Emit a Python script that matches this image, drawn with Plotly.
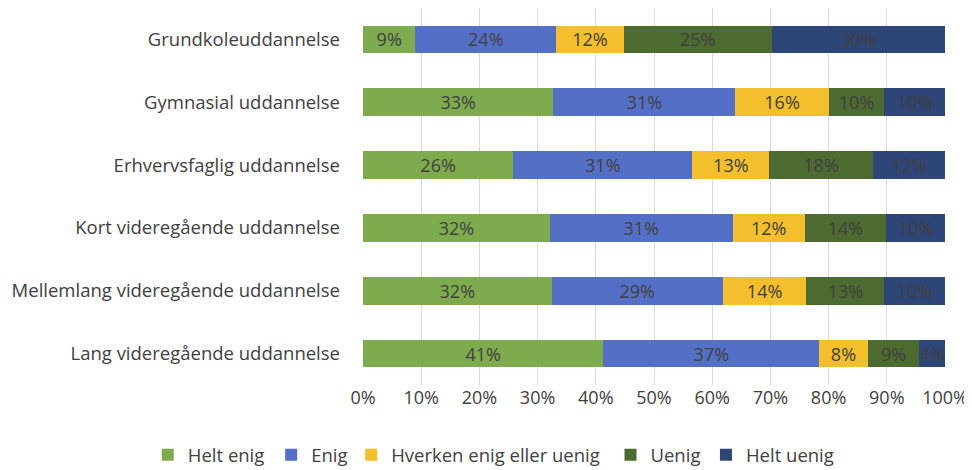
import plotly.graph_objects as go

categories = [
    "Grundkoleuddannelse",
    "Gymnasial uddannelse",
    "Erhvervsfaglig uddannelse",
    "Kort videregående uddannelse",
    "Mellemlang videregående uddannelse",
    "Lang videregående uddannelse",
]
series_names = ["Helt enig", "Enig", "Hverken enig eller uenig", "Uenig", "Helt uenig"]
helt_enig = [9.0, 32.7, 25.8, 32.1, 32.4, 41.3]
enig = [24.2, 31.3, 30.8, 31.4, 29.4, 37.1]
hverken = [11.6, 16.0, 13.2, 12.4, 14.4, 8.3]
uenig = [25.4, 9.6, 17.8, 14.0, 13.4, 8.9]
helt_uenig = [29.8, 10.4, 12.4, 10.1, 10.4, 4.4]
tick_vals = [0, 10, 20, 30, 40, 50, 60, 70, 80, 90, 100]
tick_text = [f"{v}%" for v in tick_vals]

colors = ["#7FAB4F", "#5470C6", "#F3BF2C", "#4D6A30", "#2E4677"]
values = [helt_enig, enig, hverken, uenig, helt_uenig]
legend_ids = ["legend", "legend2", "legend3", "legend4", "legend5"]
legend_x = [0.145, 0.273, 0.356, 0.625, 0.724]

FONT = "Open Sans"
TXT = "#404040"

fig = go.Figure()
for name, vals, col, lid in zip(series_names, values, colors, legend_ids):
    fig.add_trace(go.Bar(
        y=categories, x=vals, name=name, orientation="h", legend=lid,
        marker=dict(color=col, line=dict(width=0)),
        texttemplate="%{x:.0f}%", textposition="inside", insidetextanchor="middle",
        textangle=0,
        textfont=dict(color=TXT, size=18, family=FONT),
        constraintext="none",
    ))

legends = {}
for lid, lx in zip(legend_ids, legend_x):
    legends[lid] = dict(orientation="h", xref="container", x=lx, xanchor="left",
                        yref="container", y=0.032, yanchor="middle",
                        font=dict(size=18.5, color=TXT, family=FONT),
                        itemwidth=30, bgcolor="rgba(0,0,0,0)")

fig.update_layout(
    barmode="stack",
    bargap=0.56,
    width=964, height=462,
    margin=dict(l=355, r=27, t=0, b=85, autoexpand=False),
    plot_bgcolor="white", paper_bgcolor="white",
    font=dict(family=FONT, size=18, color=TXT),
    showlegend=True,
    **legends,
)
fig.update_xaxes(range=[0, 100], tickvals=tick_vals, ticktext=tick_text,
                 showgrid=True, gridcolor="#D9D9D9", gridwidth=1, zeroline=False,
                 ticks="", tickfont=dict(size=18, color=TXT), automargin=False)
fig.update_yaxes(autorange="reversed", showgrid=False, ticks="", ticklen=0,
                 tickfont=dict(size=18.5, color=TXT), ticklabelstandoff=22,
                 automargin=False)

fig.write_html("out.html")
